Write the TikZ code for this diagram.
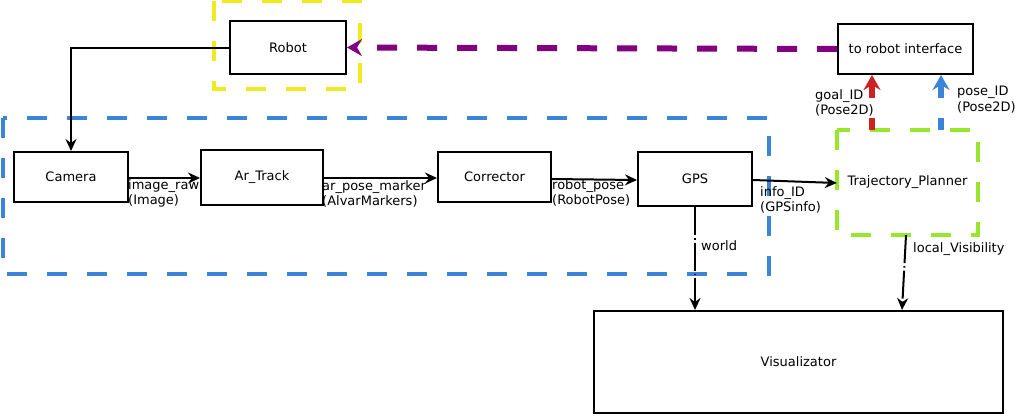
\documentclass[tikz,border=0pt]{standalone}
\usepackage{fontspec}
\setmainfont{DejaVu Sans}
\usetikzlibrary{arrows.meta}
\definecolor{cyel}{RGB}{240,234,30}
\definecolor{cblue}{RGB}{58,133,216}
\definecolor{cgreen}{RGB}{153,230,46}
\definecolor{cpurp}{RGB}{128,0,128}
\definecolor{cred}{RGB}{204,34,34}
\begin{document}
\begin{tikzpicture}[x=1pt,y=-1pt,
  every node/.style={font=\fontsize{13}{15.5}\selectfont},
  box/.style={draw=black,line width=2pt,minimum width=0pt,inner sep=0pt},
  grp/.style={line width=4pt,dash pattern=on 20pt off 20pt},
  lbl/.style={inner sep=0pt,align=left,anchor=north west},
  arr/.style={line width=2pt,-{Stealth[length=12pt,width=11pt,inset=4pt]}},
  dd/.style={arr,dash pattern=on 28pt off 3pt on 1.5pt off 3pt},
  thick arr/.style={line width=6pt,dash pattern=on 20pt off 20pt,-{Stealth[length=15pt,width=17pt,inset=5pt]}}]
\useasboundingbox (0,0) rectangle (1016,416);
\fill[white] (0,0) rectangle (1016,416);
% group boxes
\draw[grp,cyel] (214,1) rectangle (360,89);
\draw[grp,cblue] (3,118) rectangle (769,274);
% nodes
\node[box,minimum width=116pt,minimum height=53pt] (robot) at (288,47.5) {Robot};
\node[box,minimum width=135pt,minimum height=50pt] (tri) at (905.5,49) {to robot interface};
\node[box,minimum width=114pt,minimum height=50pt] (cam) at (71,177) {Camera};
\node[box,minimum width=122pt,minimum height=55pt] (ar) at (262,177.5) {Ar\_Track};
\node[box,minimum width=113pt,minimum height=50pt] (cor) at (494.5,177) {Corrector};
\node[box,minimum width=114pt,minimum height=54pt] (gps) at (695,179) {GPS};
\node[minimum width=141pt,minimum height=105pt,inner sep=0pt] (tp) at (907.5,182.5) {Trajectory\_Planner};
\draw[grp,cgreen] (tp.north west) rectangle (tp.south east);
\node[box,minimum width=409pt,minimum height=102pt] (vis) at (798.5,362) {Visualizator};
% connectors
\draw[arr] (robot.west) -| (cam.north);
\draw[arr] (cam.east |- 0,178) -- (ar.west |- 0,178);
\draw[arr] (ar.east |- 0,178) -- (cor.west |- 0,178);
\draw[arr] (cor.east |- 0,179) -- (gps.west |- 0,180);
\draw[arr] (gps.east |- 0,180) -- (tp.west |- 0,183);
\draw[dd] (gps.south) -- (vis.north -| gps.south);
\draw[dd] (tp.south -| 906,0) -- (vis.north -| 902,0);
\draw[thick arr,cpurp] (tri.west) -- (robot.east);
\draw[thick arr,cred,dash phase=8pt] (tp.north -| 872,0) -- (tri.south -| 872,0);
\draw[thick arr,cblue,dash phase=8pt] (tp.north -| 941,0) -- (tri.south -| 941,0);
% labels
\node[lbl] (l1) at (128,179) {image\_raw\\(Image)};
\node[lbl] (l2) at (322,180) {ar\_pose\_marker\\(AlvarMarkers)};
\node[lbl] (l3) at (552,179) {robot\_pose\\(RobotPose)};
\node[lbl] (l4) at (760,186) {info\_ID\\(GPSinfo)};
\node[lbl,anchor=west] (l5) at (701,246) {world};
\node[lbl,anchor=west] (l6) at (913,249) {local\_Visibility};
\node[lbl] (l7) at (815,89) {goal\_ID\\(Pose2D)};
\node[lbl] (l8) at (957,86) {pose\_ID\\(Pose2D)};
\end{tikzpicture}
\end{document}
